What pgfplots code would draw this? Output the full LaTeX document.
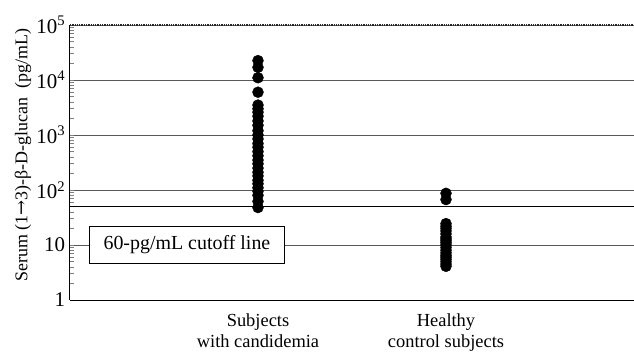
\documentclass[border=0pt]{standalone}
\usepackage{fontspec}
\setmainfont{Liberation Serif}
\newfontfamily\arrowfont{DejaVu Serif}
\usepackage{pgfplots}
\pgfplotsset{compat=1.18}
\begin{document}
\fontsize{17}{20}\selectfont
\begin{tikzpicture}
\begin{axis}[
  scale only axis, width=564bp, height=275bp,
  ymode=log, ymin=1, ymax=1e5, xmin=0, xmax=3,
  axis lines*=left,
  axis line style={line width=1pt},
  xtick={1,2},
  xticklabels={Subjects\\with candidemia, Healthy\\control subjects},
  xticklabel style={align=center, font=\fontsize{18.5}{20.5}\selectfont, yshift=-8bp},
  major x tick style={draw=none},
  ytick={1,10,100,1000,10000,100000},
  yticklabels={1,10,10\textsuperscript{2},10\textsuperscript{3},10\textsuperscript{4},10\textsuperscript{5}},
  yticklabel style={font=\fontsize{21}{24}\selectfont, xshift=1bp},
  ymajorgrids, grid style={black!65, line width=0.9pt},
  major tick length=0pt, minor tick length=4bp,
  minor tick style={line width=0.6pt},
  ylabel={Serum (1{\arrowfont →}3)-β-D-glucan\ \ (pg/mL)},
  ylabel style={font=\fontsize{18}{20}\selectfont, at={(axis description cs:-0.0833,0.527)}, anchor=center},
  clip=false,
]
\addplot[only marks, mark=*, mark size=5.5bp, black] coordinates {
(1,48) (1,62) (1,80) (1,95) (1,110) (1,130) (1,150) (1,180) (1,210) (1,250)
(1,300) (1,350) (1,420) (1,500) (1,600) (1,700) (1,850) (1,1000) (1,1200)
(1,1500) (1,1800) (1,2200) (1,2600) (1,3000) (1,3500) (1,6000) (1,11000)
(1,17000) (1,22500)
};
\addplot[only marks, mark=*, mark size=5.5bp, black] coordinates {
(2,87) (2,67) (2,24.5) (2,22) (2,20) (2,18) (2,16) (2,14) (2,13) (2,12)
(2,11) (2,10) (2,9) (2,8) (2,7.2) (2,6.5) (2,6) (2,5.5) (2,5) (2,4.5) (2,4.1)
};
\addplot[black, line width=1.2pt] coordinates {(0,50) (3,50)};
\draw[black!85, line width=1.3pt, densely dotted] (rel axis cs:0,1) -- (rel axis cs:1,1);
\node[draw=black, line width=1pt, fill=white, minimum width=195bp, minimum height=37bp,
  font=\fontsize{20}{22}\selectfont] at (axis cs:0.622,10) {60-pg/mL cutoff line};
\coordinate (bl) at (rel axis cs:-0.1241,-0.1964);
\coordinate (tr) at (rel axis cs:1,1.0909);
\end{axis}
\pgfresetboundingbox
\path[use as bounding box] (bl) rectangle (tr);
\end{tikzpicture}
\end{document}
